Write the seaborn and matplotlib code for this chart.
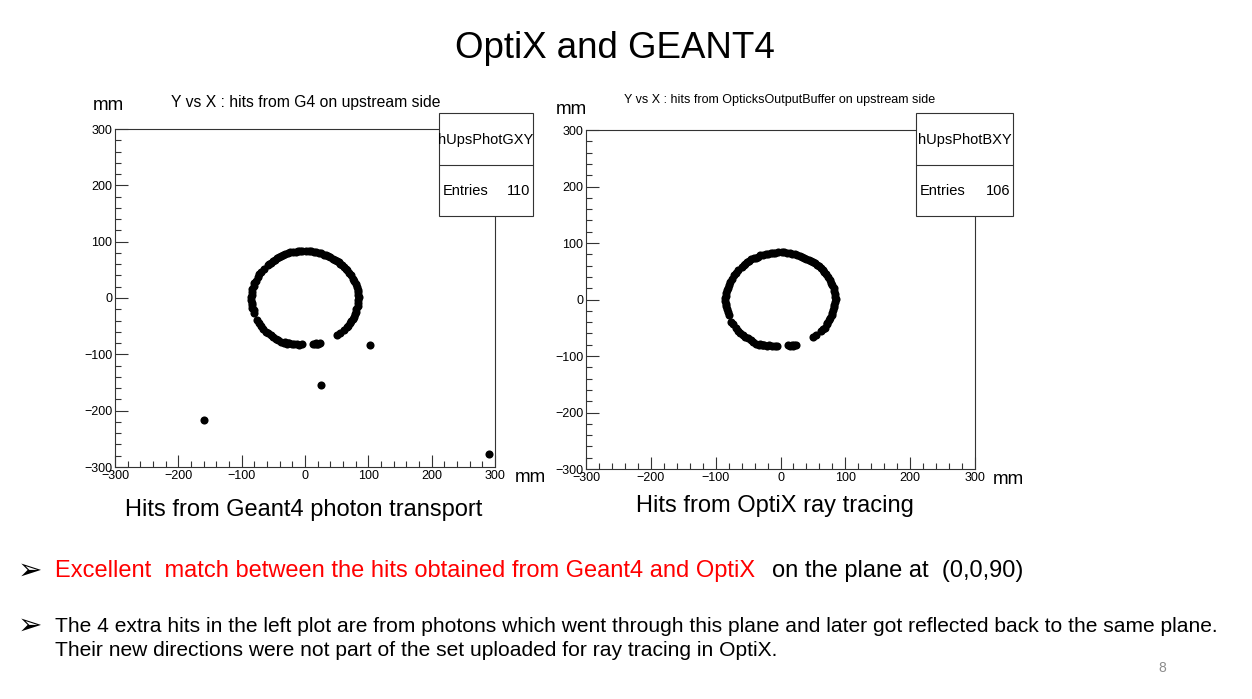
import matplotlib
matplotlib.use("Agg")
import matplotlib.pyplot as plt
from matplotlib.patches import Rectangle
from matplotlib.lines import Line2D
from matplotlib.ticker import MultipleLocator
import pandas as pd
import seaborn as sns

# hits on the ring (mm) - common to G4 and OptiX
ring_x = [50, 55, 62, 66, 68, 71, 72, 75, 77, 79, 80, 81, 83, 83, 84, 85, 84, 84, 83, 82, 80, 78, 76,
          73, 70, 67, 65, 62, 59, 56, 53, 50, 47, 44, 40, 37, 33, 30, 26, 22, 18, 14, 10, 6, 2,
          -4, -8, -11, -15, -19, -23, -27, -31, -34, -38, -41, -45, -48, -51, -54, -57, -59,
          -65, -69, -72, -75, -78, -80, -81, -83, -84, -84, -85, -85, -84, -84, -83, -81, -80,
          -76, -73, -69, -66, -62, -58, -54, -50, -46, -42, -38, -33, -29, -25, -21, -17, -13, -9, -5,
          12, 15, 18, 21, 24, -31, -27, 19]
ring_y = [-66, -62, -56, -52, -50, -44, -41, -37, -33, -28, -24, -19, -14, -9, -4, 1, 5, 10, 15, 20, 25, 30, 34,
          40, 45, 49, 52, 55, 59, 61, 64, 66, 68, 70, 72, 74, 76, 77, 79, 80, 81, 82, 83, 84, 84,
          84, 83, 83, 82, 81, 81, 79, 78, 76, 74, 73, 71, 68, 66, 63, 61, 58,
          52, 47, 43, 37, 31, 26, 21, 16, 11, 6, 2, -3, -8, -12, -17, -22, -27,
          -39, -44, -50, -55, -60, -62, -66, -69, -72, -75, -78, -80, -81, -80, -82, -81, -82, -83, -82,
          -81, -82, -80, -81, -80, -78, -80, -82]

# extra hits only seen in the G4 plot (reflected photons)
extra_x = [-160, 25, 103, 290]
extra_y = [-217, -155, -83, -277]

hist_names = ["hUpsPhotGXY", "hUpsPhotBXY"]
hist_entries = [110, 106]
hist_titles = ["Y vs X : hits from G4 on upstream side",
               "Y vs X : hits from OpticksOutputBuffer on upstream side"]

W, H = 1252, 699


def fp(x, y):
    return (x / W, 1 - y / H)


sns.set_style("ticks")
plt.rcParams["font.family"] = ["Liberation Sans Narrow", "Liberation Sans", "DejaVu Sans"]
plt.rcParams["text.color"] = "black"
slide_font = ["Liberation Sans", "DejaVu Sans"]

fig = plt.figure(figsize=(W / 100, H / 100), dpi=100)
fig.patch.set_facecolor("white")


def draw_hist(rect, xs, ys, name, entries, title, title_pos, title_size, box_x, box_w, mm_y, mm_x):
    ax = fig.add_axes(rect)
    df = pd.DataFrame({"x": xs, "y": ys})
    sns.scatterplot(data=df, x="x", y="y", ax=ax, color="black", s=34,
                    linewidth=0, legend=False)
    ax.set_xlim(-300, 300)
    ax.set_ylim(-300, 300)
    ax.set_xlabel("")
    ax.set_ylabel("")
    ax.xaxis.set_major_locator(MultipleLocator(100))
    ax.yaxis.set_major_locator(MultipleLocator(100))
    ax.xaxis.set_minor_locator(MultipleLocator(20))
    ax.yaxis.set_minor_locator(MultipleLocator(20))
    ax.tick_params(which="both", direction="in", top=False, right=False,
                   width=0.8, colors="#333333", labelcolor="black", labelsize=9, pad=2)
    ax.tick_params(which="major", length=9)
    ax.tick_params(which="minor", length=4.5)
    for s in ax.spines.values():
        s.set_visible(True)
        s.set_linewidth(0.8)
        s.set_color("#333333")

    # stats box
    fig.add_artist(Rectangle(fp(box_x, 216), box_w / W, 103 / H, transform=fig.transFigure,
                             facecolor="white", edgecolor="#333333", linewidth=0.8, zorder=5))
    fig.add_artist(Line2D([box_x / W, (box_x + box_w) / W], [1 - 165 / H] * 2,
                          transform=fig.transFigure, color="#333333", linewidth=0.8, zorder=6))
    fig.text(*fp(box_x + box_w / 2, 140), name, ha="center", va="center", fontsize=10.5, zorder=7)
    fig.text(*fp(box_x + 4, 191), "Entries", ha="left", va="center", fontsize=10.5, zorder=7)
    fig.text(*fp(box_x + box_w - 3, 191), str(entries), ha="right", va="center", fontsize=10.5,
             zorder=7, family=slide_font)

    fig.text(*fp(*title_pos), title, ha="center", va="center", fontsize=title_size)
    fig.text(*fp(*mm_y), "mm", ha="center", va="center", fontsize=13.5, family=slide_font)
    fig.text(*fp(*mm_x), "mm", ha="center", va="center", fontsize=13.5, family=slide_font)
    return ax


draw_hist([115 / W, 1 - 467 / H, 380 / W, 338 / H], ring_x + extra_x, ring_y + extra_y,
          hist_names[0], hist_entries[0], hist_titles[0], (306, 102), 11.3, 439, 94,
          (108, 106), (530, 477))
draw_hist([586 / W, 1 - 469 / H, 389 / W, 339 / H], ring_x, ring_y,
          hist_names[1], hist_entries[1], hist_titles[1], (780, 100), 9, 916, 97,
          (571, 110), (1008, 480))

fig.text(*fp(615, 48), "OptiX and GEANT4", ha="center", va="center", fontsize=26.4, family=slide_font)
fig.text(*fp(304, 510), "Hits from Geant4 photon transport", ha="center", va="center",
         fontsize=17, family=slide_font)
fig.text(*fp(775, 506), "Hits from OptiX ray tracing", ha="center", va="center",
         fontsize=17, family=slide_font)

fig.text(*fp(30, 571), "\u27a2", ha="center", va="center", fontsize=21, weight="bold",
         color="black", family=["DejaVu Sans"])
fig.text(*fp(55, 571), "Excellent  match between the hits obtained from Geant4 and OptiX",
         ha="left", va="center", fontsize=17, color="#ff0000", family=slide_font)
fig.text(*fp(772, 571), "on the plane at  (0,0,90)", ha="left", va="center",
         fontsize=17, color="black", family=slide_font)

fig.text(*fp(30, 626), "\u27a2", ha="center", va="center", fontsize=21, weight="bold",
         color="black", family=["DejaVu Sans"])
fig.text(*fp(55, 626), "The 4 extra hits in the left plot are from photons which went through this plane "
                       "and later got reflected back to the same plane.",
         ha="left", va="center", fontsize=15.1, color="black", family=slide_font)
fig.text(*fp(55, 650), "Their new directions were not part of the set uploaded for ray tracing in OptiX.",
         ha="left", va="center", fontsize=15.1, color="black", family=slide_font)
fig.text(*fp(1162, 668), "8", ha="center", va="center", fontsize=10, color="#8c8c8c", family=slide_font)

fig.savefig("out.png", dpi=100)
